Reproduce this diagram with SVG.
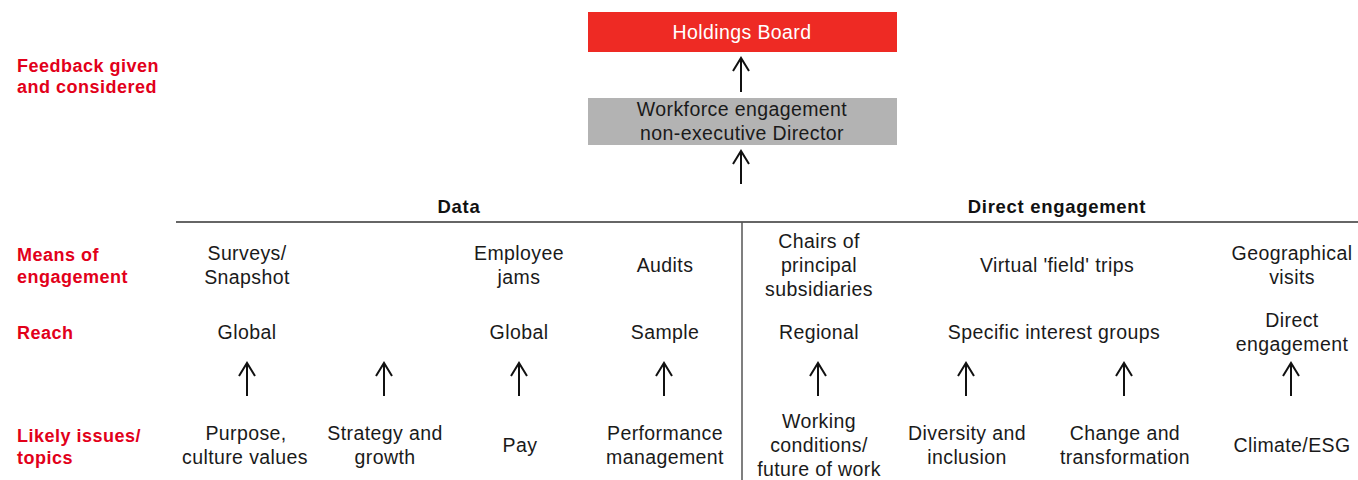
<svg xmlns="http://www.w3.org/2000/svg" width="1358" height="480" viewBox="0 0 1358 480">
<style>
  .t { font-family: "Liberation Sans", Arial, sans-serif; font-size: 19.5px; letter-spacing: 0.4px; fill: #1a1a1a; text-anchor: middle; }
  .w { fill: #ffffff; }
  .h { font-family: "Liberation Sans", Arial, sans-serif; font-size: 18.5px; font-weight: bold; letter-spacing: 0.7px; fill: #111; text-anchor: middle; }
  .r { font-family: "Liberation Sans", Arial, sans-serif; font-size: 18px; font-weight: bold; letter-spacing: 0.5px; fill: #e2001a; }
  .a { stroke: #111; stroke-width: 2; fill: none; marker-end: url(#chev); }
  .sep { stroke: #333; stroke-width: 1.5; fill: none; }
</style>
<defs>
  <marker id="chev" markerUnits="userSpaceOnUse" markerWidth="30" markerHeight="30" refX="0" refY="0" viewBox="-15 -15 30 30" orient="auto" overflow="visible">
    <path d="M-13,-8 L0,0 L-13,8" fill="none" stroke="#111" stroke-width="2"/>
  </marker>
</defs>

<g id="row-labels">
  <text class="r" x="17" y="72">Feedback given</text>
  <text class="r" x="17" y="93">and considered</text>
  <text class="r" x="17" y="261">Means of</text>
  <text class="r" x="17" y="283">engagement</text>
  <text class="r" x="17" y="339">Reach</text>
  <text class="r" x="17" y="442">Likely issues/</text>
  <text class="r" x="17" y="464">topics</text>
</g>

<g id="holdings-board">
  <rect x="588" y="12" width="309" height="40" fill="#ee2a24"/>
  <text class="t w" x="742" y="39">Holdings Board</text>
</g>

<g id="workforce-director">
  <rect x="588" y="98" width="309" height="47" fill="#b3b3b3"/>
  <text class="t" x="742" y="116">Workforce engagement</text>
  <text class="t" x="742" y="140">non-executive Director</text>
</g>

<g id="headers">
  <text class="h" x="459" y="213">Data</text>
  <text class="h" x="1057" y="213">Direct engagement</text>
</g>

<g id="dividers">
  <line class="sep" x1="176" y1="222" x2="1358" y2="222"/>
  <line x1="742" y1="222" x2="742" y2="480" stroke="#555" stroke-width="1.5"/>
</g>

<g id="means">
  <text class="t" x="247" y="260">Surveys/</text>
  <text class="t" x="247" y="284">Snapshot</text>
  <text class="t" x="519" y="260">Employee</text>
  <text class="t" x="519" y="284">jams</text>
  <text class="t" x="665" y="272">Audits</text>
  <text class="t" x="819" y="248">Chairs of</text>
  <text class="t" x="819" y="272">principal</text>
  <text class="t" x="819" y="296">subsidiaries</text>
  <text class="t" x="1057" y="272">Virtual 'field' trips</text>
  <text class="t" x="1292" y="260">Geographical</text>
  <text class="t" x="1292" y="284">visits</text>
</g>

<g id="reach">
  <text class="t" x="247" y="339">Global</text>
  <text class="t" x="519" y="339">Global</text>
  <text class="t" x="665" y="339">Sample</text>
  <text class="t" x="819" y="339">Regional</text>
  <text class="t" x="1054" y="339">Specific interest groups</text>
  <text class="t" x="1292" y="327">Direct</text>
  <text class="t" x="1292" y="351">engagement</text>
</g>

<g id="issues">
  <text class="t" x="246" y="440">Purpose,</text>
  <text class="t" x="245" y="464">culture values</text>
  <text class="t" x="385" y="440">Strategy and</text>
  <text class="t" x="385" y="464">growth</text>
  <text class="t" x="520" y="452">Pay</text>
  <text class="t" x="665" y="440">Performance</text>
  <text class="t" x="665" y="464">management</text>
  <text class="t" x="819" y="428">Working</text>
  <text class="t" x="819" y="452">conditions/</text>
  <text class="t" x="819" y="476">future of work</text>
  <text class="t" x="967" y="440">Diversity and</text>
  <text class="t" x="967" y="464">inclusion</text>
  <text class="t" x="1125" y="440">Change and</text>
  <text class="t" x="1125" y="464">transformation</text>
  <text class="t" x="1292" y="452">Climate/ESG</text>
</g>

<g id="connectors">
  <line class="a" x1="741" y1="92" x2="741" y2="58"/>
  <line class="a" x1="741" y1="184" x2="741" y2="151"/>
  <line class="a" x1="247" y1="396" x2="247" y2="363"/>
  <line class="a" x1="384" y1="396" x2="384" y2="363"/>
  <line class="a" x1="519" y1="396" x2="519" y2="363"/>
  <line class="a" x1="664" y1="396" x2="664" y2="363"/>
  <line class="a" x1="818" y1="396" x2="818" y2="363"/>
  <line class="a" x1="966" y1="396" x2="966" y2="363"/>
  <line class="a" x1="1124" y1="396" x2="1124" y2="363"/>
  <line class="a" x1="1291" y1="396" x2="1291" y2="363"/>
</g>
</svg>
